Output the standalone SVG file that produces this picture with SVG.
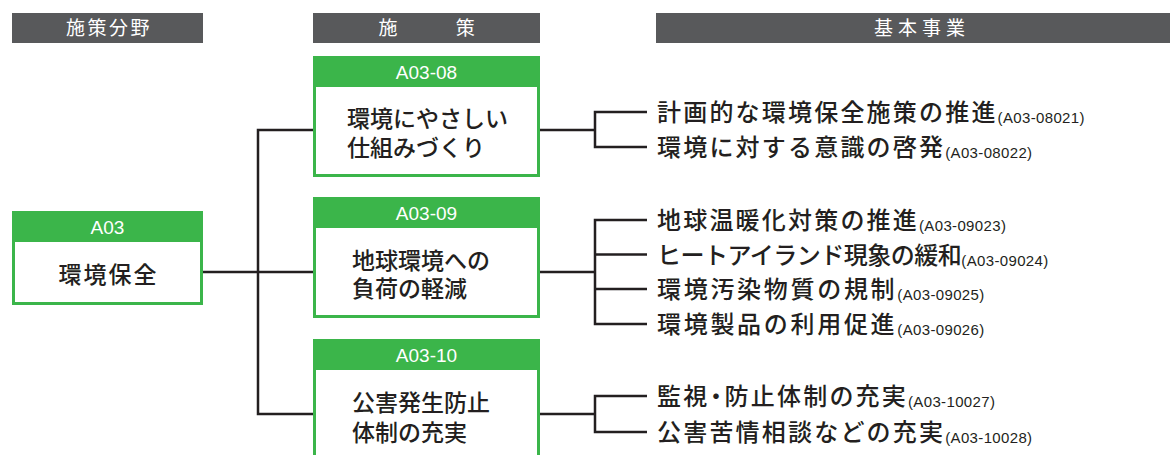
<svg xmlns="http://www.w3.org/2000/svg" width="1170" height="455" viewBox="0 0 1170 455">
<style>
.hdr{fill:#58595b}
.hdrt{fill:#ffffff;font-family:"Noto Sans CJK JP","Noto Sans CJK SC",sans-serif;font-size:19px}
.gh{fill:#3bb54a}
.body{fill:#ffffff;stroke:#3bb54a;stroke-width:3}
.code{fill:#ffffff;font-family:"Liberation Sans",Arial,sans-serif;font-size:19px;text-anchor:middle}
.bt{fill:#231f20;font-family:"Noto Sans CJK JP","Noto Sans CJK SC",sans-serif;font-size:23px;font-weight:500}
.it{fill:#231f20;font-family:"Noto Sans CJK JP","Noto Sans CJK SC",sans-serif;font-size:24px;font-weight:500;letter-spacing:2.2px}
.sc{font-family:"Liberation Sans",Arial,sans-serif;font-size:15px;font-weight:400;letter-spacing:0.35px}
.conn{fill:none;stroke:#231f20;stroke-width:2.5;stroke-linecap:butt;stroke-linejoin:miter}
</style>

<g id="headers">
  <rect class="hdr" x="12" y="13" width="191" height="30"/>
  <text class="hdrt" x="109" y="35" text-anchor="middle" letter-spacing="2.5">施策分野</text>
  <rect class="hdr" x="313" y="13" width="227" height="30"/>
  <text class="hdrt" x="430" y="35" text-anchor="middle" letter-spacing="6.7">施　　策</text>
  <rect class="hdr" x="656" y="13" width="514" height="30"/>
  <text class="hdrt" x="922" y="35" text-anchor="middle" letter-spacing="5">基本事業</text>
</g>

<g id="connectors">
  <path class="conn" d="M203 272 H313"/>
  <path class="conn" d="M313 130 H258 V414 H313"/>
  <path class="conn" d="M540 130 H595"/>
  <path class="conn" d="M647 112 H595 V147 H647"/>
  <path class="conn" d="M540 272 H595"/>
  <path class="conn" d="M647 220 H595 V324 H647"/>
  <path class="conn" d="M595 254.5 H647"/>
  <path class="conn" d="M595 289 H647"/>
  <path class="conn" d="M540 414 H595"/>
  <path class="conn" d="M647 396 H595 V432 H647"/>
</g>

<g id="node-A03">
  <rect class="body" x="13.5" y="212.5" width="188" height="91"/>
  <rect class="gh" x="12" y="211" width="191" height="31"/>
  <text class="code" x="107.5" y="233.5">A03</text>
  <text class="bt" x="108.5" y="283" text-anchor="middle" font-size="24" letter-spacing="2">環境保全</text>
</g>

<g id="node-A03-08">
  <rect class="body" x="314.5" y="57.5" width="224" height="118"/>
  <rect class="gh" x="313" y="56" width="227" height="31"/>
  <text class="code" x="426.5" y="78.5">A03-08</text>
  <text class="bt" x="347" y="126.7">環境にやさしい</text>
  <text class="bt" x="347" y="155.7">仕組みづくり</text>
</g>

<g id="node-A03-09">
  <rect class="body" x="314.5" y="198.5" width="224" height="118"/>
  <rect class="gh" x="313" y="197" width="227" height="31"/>
  <text class="code" x="426.5" y="219.5">A03-09</text>
  <text class="bt" x="352" y="268.7">地球環境への</text>
  <text class="bt" x="352" y="296.7">負荷の軽減</text>
</g>

<g id="node-A03-10">
  <rect class="body" x="314.5" y="340.5" width="224" height="140"/>
  <rect class="gh" x="313" y="339" width="227" height="31"/>
  <text class="code" x="426.5" y="361.5">A03-10</text>
  <text class="bt" x="352" y="410.7">公害発生防止</text>
  <text class="bt" x="352" y="440.7">体制の充実</text>
</g>

<g id="items">
  <text id="item-A03-08021" class="it" x="657" y="121">計画的な環境保全施策の推進<tspan class="sc" dy="2">(A03-08021)</tspan></text>
  <text id="item-A03-08022" class="it" x="657" y="156">環境に対する意識の啓発<tspan class="sc" dy="2">(A03-08022)</tspan></text>
  <text id="item-A03-09023" class="it" x="657" y="229">地球温暖化対策の推進<tspan class="sc" dy="2">(A03-09023)</tspan></text>
  <text id="item-A03-09024" class="it" x="657" y="263.5" style="letter-spacing:-0.5px">ヒートアイランド現象の緩和<tspan class="sc" dy="2">(A03-09024)</tspan></text>
  <text id="item-A03-09025" class="it" x="657" y="298" style="letter-spacing:2.7px">環境汚染物質の規制<tspan class="sc" dy="2">(A03-09025)</tspan></text>
  <text id="item-A03-09026" class="it" x="657" y="333" style="letter-spacing:2.7px">環境製品の利用促進<tspan class="sc" dy="2">(A03-09026)</tspan></text>
  <text id="item-A03-10027" class="it" x="657" y="405">監視<tspan dx="-5.5" letter-spacing="-3.3">・</tspan>防止体制の充実<tspan class="sc" dy="2">(A03-10027)</tspan></text>
  <text id="item-A03-10028" class="it" x="657" y="441">公害苦情相談などの充実<tspan class="sc" dy="2">(A03-10028)</tspan></text>
</g>
</svg>
